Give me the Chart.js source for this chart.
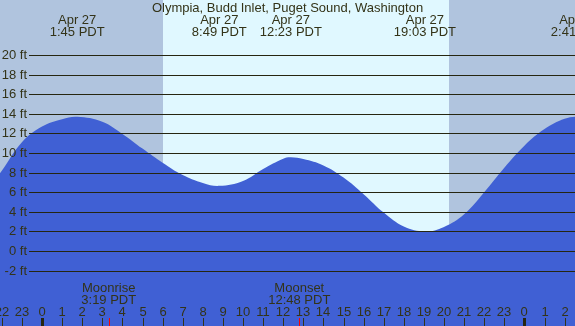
<!DOCTYPE html>
<html>
<head>
<meta charset="utf-8">
<script src="https://cdn.jsdelivr.net/npm/chart.js@4/dist/chart.umd.min.js"></script>
<style>
  html, body { margin: 0; padding: 0; background: #b0c4de; }
  #wrap { width: 575px; height: 326px; }
</style>
</head>
<body>
<div id="wrap"><canvas id="tideChart" width="575" height="326"></canvas></div>
<script>
// Tide data (hours since midnight Apr 27, feet)
const tideHours = [-3, -2, -1, 0, 1, 1.75, 3, 4, 5, 6, 7, 8, 8.82, 10, 11, 12, 12.38, 13, 14, 15, 16, 17, 18, 19.05, 20, 21, 22, 23, 24, 25, 26, 26.68, 27.5];
const tideFeet  = [5.4, 8.2, 11.1, 12.7, 13.45, 13.7, 13.2, 11.95, 10.45, 9.0, 7.75, 6.95, 6.65, 7.15, 8.37, 9.42, 9.56, 9.38, 8.73, 7.5, 5.8, 3.92, 2.5, 2.0, 2.46, 3.75, 6.0, 8.5, 10.75, 12.45, 13.5, 13.7, 13.3];

// High / low labels on top
const extremeHours = [1.75, 8.82, 12.38, 19.05, 26.68];
const extremeDates = ['Apr 27', 'Apr 27', 'Apr 27', 'Apr 27', 'Apr 28'];
const extremeTimes = ['1:45 PDT', '8:49 PDT', '12:23 PDT', '19:03 PDT', '2:41 PDT'];

// Sun: night intervals
const nightStart = [-4, 20.25];
const nightEnd   = [6.02, 30];

// Moon events
const moonHours  = [3.32, 12.8];
const moonNames  = ['Moonrise', 'Moonset'];
const moonTimes  = ['3:19 PDT', '12:48 PDT'];

// Axis ticks
const feetTicks = [-2, 0, 2, 4, 6, 8, 10, 12, 14, 16, 18, 20];
const hourTicks = [-2, -1, 0, 1, 2, 3, 4, 5, 6, 7, 8, 9, 10, 11, 12, 13, 14, 15, 16, 17, 18, 19, 20, 21, 22, 23, 24, 25, 26];

const TITLE = 'Olympia, Budd Inlet, Puget Sound, Washington';
const FONT = '13px "Liberation Sans", Arial, sans-serif';
const INK = '#333318';

const decorPlugin = {
    id: 'decor',
    beforeDatasetsDraw(chart) {
        const { ctx, chartArea, scales: { x } } = chart;
        ctx.save();
        ctx.fillStyle = '#e0f8ff';
        ctx.fillRect(chartArea.left, chartArea.top, chartArea.width, chartArea.height);
        ctx.fillStyle = '#b0c4de';
        for (let i = 0; i < nightStart.length; i++) {
            const x0 = Math.round(x.getPixelForValue(nightStart[i]));
            const x1 = Math.round(x.getPixelForValue(nightEnd[i]));
            ctx.fillRect(x0, chartArea.top, x1 - x0, chartArea.height);
        }
        ctx.restore();
    },
    afterDatasetsDraw(chart) {
        const { ctx, chartArea, scales: { x, y } } = chart;
        ctx.save();
        ctx.font = FONT;
        ctx.fillStyle = INK;
        ctx.strokeStyle = '#262610';
        ctx.lineWidth = 1;

        // horizontal grid + feet labels
        ctx.textAlign = 'right';
        ctx.textBaseline = 'middle';
        feetTicks.forEach(v => {
            const py = Math.round(y.getPixelForValue(v)) + 0.5;
            ctx.beginPath();
            ctx.moveTo(29, py);
            ctx.lineTo(chartArea.right, py);
            ctx.stroke();
            ctx.fillText(v + ' ft', 27, py);
        });

        // title + extremes
        ctx.textAlign = 'center';
        ctx.fillText(TITLE, (chartArea.left + chartArea.right) / 2, 8);
        extremeHours.forEach((h, i) => {
            const px = x.getPixelForValue(h);
            ctx.fillText(extremeDates[i], px, 20);
            ctx.fillText(extremeTimes[i], px, 32);
        });

        // moon labels
        moonHours.forEach((h, i) => {
            const px = x.getPixelForValue(h);
            ctx.fillText(moonNames[i], px, 288);
            ctx.fillText(moonTimes[i], px, 300);
        });

        // hour ticks
        hourTicks.forEach(h => {
            const px = Math.round(x.getPixelForValue(h));
            const label = String(((h % 24) + 24) % 24);
            ctx.fillText(label, px, 312);
            if (label === '0') {
                ctx.fillStyle = '#262610';
                ctx.fillRect(px - 1, 318, 3, chartArea.bottom - 318);
                ctx.fillStyle = INK;
            } else {
                ctx.fillRect(px, 318, 1, chartArea.bottom - 318);
            }
        });

        ctx.fillStyle = '#ff0000';
        moonHours.forEach(h => {
            const px = Math.round(x.getPixelForValue(h));
            ctx.fillRect(px, 318, 1, chartArea.bottom - 318);
        });
        ctx.restore();
    }
};

const ctx = document.getElementById('tideChart').getContext('2d');
new Chart(ctx, {
    type: 'line',
    data: {
        datasets: [{
            data: tideHours.map((h, i) => ({ x: h, y: tideFeet[i] })),
            backgroundColor: '#4060d4',
            borderWidth: 0,
            pointRadius: 0,
            fill: 'start',
            tension: 0.4
        }]
    },
    options: {
        responsive: false,
        animation: false,
        devicePixelRatio: 1,
        layout: { padding: 0 },
        plugins: { legend: { display: false }, tooltip: { enabled: false } },
        scales: {
            x: { type: 'linear', display: false, min: -2.09, max: 26.517 },
            y: { display: false, min: -7.65, max: 25.61 }
        }
    },
    plugins: [decorPlugin]
});
</script>
</body>
</html>
